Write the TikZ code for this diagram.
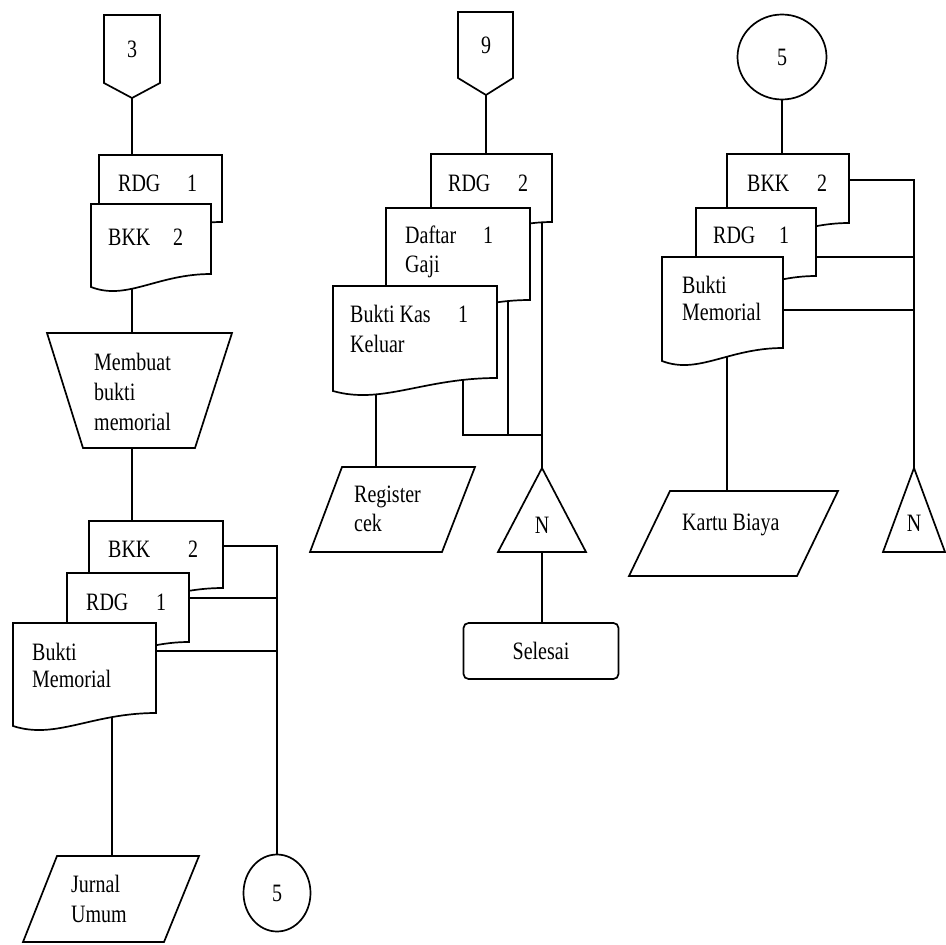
\documentclass[tikz,border=0pt]{standalone}
\usepackage{fontspec}
\setmainfont{Liberation Serif}[FakeStretch=0.8]
\usetikzlibrary{shapes.geometric,calc}
\pgfdeclarelayer{bg}
\pgfsetlayers{bg,main}

\tikzset{
	docline/.style={draw, fill=white, line width=1.7pt},
	flow/.style={draw, line width=1.7pt},
	lbl/.style={inner sep=0pt, anchor=base west},
	num/.style={inner sep=0pt, anchor=base},
	conn/.style={draw, ellipse, line width=1.7pt, fill=white, inner sep=0pt}
}

% document symbol: name, left, top, right, bottom (right side)
\newcommand{\docshape}[5]{%
	\draw[docline] (#2,#3) coordinate (#1-nw) -- (#4,#3) -- (#4,#5)
		.. controls ({#4-0.45*(#4-#2)},#5) and ({#2+0.3*(#4-#2)},{#5+27}) .. (#2,{#5+13}) -- cycle;
	\coordinate (#1) at ({(#2+#4)/2},{(#3+#5)/2});
}

\begin{document}
\begin{tikzpicture}[x=1pt, y=-1pt, font=\fontsize{25}{30}\selectfont]
	\useasboundingbox (0,0) rectangle (946,945);
	
	% ---- left column ----
	\draw[docline] (104,15) -- (160,15) -- (160,83) -- (132,98) coordinate (op3-tip) -- (104,83) -- cycle;
	\node[num] (op3-txt) at (132,57) {3};
	
	\docshape{rdgA}{99}{155}{222}{222}
	\node[lbl] (rdgA-t) at (118,191) {RDG};
	\node[num] (rdgA-n) at (192,191) {1};
	\docshape{bkkA}{91}{204}{211}{274}
	\node[lbl] (bkkA-t) at (108,245) {BKK};
	\node[num] (bkkA-n) at (178,245) {2};
	
	% manual operation
	\draw[docline] (47,333) -- (232,333) -- (195,448) -- (83,448) -- cycle;
	\coordinate (mb-top) at (132,333);
	\coordinate (mb-bot) at (132,448);
	\node[lbl] (mb-1) at (94,370) {Membuat};
	\node[lbl] (mb-2) at (94,400) {bukti};
	\node[lbl] (mb-3) at (94,430) {memorial};
	
	\docshape{bkkB}{89}{521}{223}{588}
	\node[lbl] (bkkB-t) at (108,557) {BKK};
	\node[num] (bkkB-n) at (193,557) {2};
	\docshape{rdgB}{67}{573}{189}{642}
	\node[lbl] (rdgB-t) at (86,610) {RDG};
	\node[num] (rdgB-n) at (161,610) {1};
	\docshape{bmB}{13}{623}{156}{713}
	\node[lbl] (bmB-1) at (32,660) {Bukti};
	\node[lbl] (bmB-2) at (32,687) {Memorial};
	
	\coordinate (busA) at (277,546);
	\coordinate (busB) at (277,598);
	\coordinate (busC) at (277,651);
	
	\draw[docline] (57,856) -- (199,856) -- (164,942) -- (23,942) -- cycle;
	\coordinate (ju-top) at (112,856);
	\node[lbl] (ju-1) at (71,892) {Jurnal};
	\node[lbl] (ju-2) at (71,922) {Umum};
	
	\node[conn, minimum width=67pt, minimum height=77pt] (c5a) at (277,893) {5};
	
	% ---- middle column ----
	\draw[docline] (458,12) -- (513,12) -- (513,78) -- (486,95) coordinate (op9-tip) -- (458,78) -- cycle;
	\node[num] (op9-txt) at (486,53) {9};
	
	\docshape{rdgC}{431}{154}{552}{222}
	\node[lbl] (rdgC-t) at (448,191) {RDG};
	\node[num] (rdgC-n) at (523,191) {2};
	\docshape{dgC}{386}{208}{530}{300}
	\node[lbl] (dgC-1) at (405,243) {Daftar};
	\node[num] (dgC-n) at (488,243) {1};
	\node[lbl] (dgC-2) at (405,272) {Gaji};
	\docshape{bkC}{333}{286}{497}{378}
	\node[lbl] (bkC-1) at (350,322) {Bukti Kas};
	\node[num] (bkC-n) at (463,322) {1};
	\node[lbl] (bkC-2) at (350,352) {Keluar};
	
	\coordinate (tapB) at (463,435);
	\coordinate (tapD) at (508,435);
	\coordinate (tapR) at (542,435);
	
	\draw[docline] (342,467) -- (475,467) -- (442,552) -- (310,552) -- cycle;
	\coordinate (rc-top) at (376,467);
	\node[lbl] (rc-1) at (354,502) {Register};
	\node[lbl] (rc-2) at (354,531) {cek};
	
	\draw[docline] (542,468) coordinate (triN-top) -- (586,552) -- (498,552) -- cycle;
	\coordinate (triN-base) at (542,552);
	\node[num] (triN-txt) at (542,533) {N};
	
	\node[draw, line width=1.7pt, rounded corners=5pt, minimum width=155pt, minimum height=56pt, inner sep=0pt] (sel) at (541,651) {Selesai};
	
	% ---- right column ----
	\node[conn, minimum width=89pt, minimum height=85pt] (c5b) at (782,57) {5};
	
	\docshape{bkkD}{727}{154}{849}{223}
	\node[lbl] (bkkD-t) at (747,191) {BKK};
	\node[num] (bkkD-n) at (822,191) {2};
	\docshape{rdgD}{696}{208}{816}{276}
	\node[lbl] (rdgD-t) at (713,243) {RDG};
	\node[num] (rdgD-n) at (784,243) {1};
	\docshape{bmD}{662}{257}{783}{348}
	\node[lbl] (bmD-1) at (682,293) {Bukti};
	\node[lbl] (bmD-2) at (682,320) {Memorial};
	
	\coordinate (busD1) at (914,180);
	\coordinate (busD2) at (914,257);
	\coordinate (busD3) at (914,310);
	
	\draw[docline] (670,491) -- (838,491) -- (797,576) -- (629,576) -- cycle;
	\coordinate (kb-top) at (727,491);
	\node[lbl] (kb-txt) at (682,530) {Kartu Biaya};
	
	\draw[docline] (914,468) coordinate (triN2-top) -- (945,552) -- (883,552) -- cycle;
	\node[num] (triN2-txt) at (914,531) {N};
	
	% ---- connectors ----
	\begin{pgfonlayer}{bg}
		\draw[flow] (op3-tip) -- (op3-tip |- rdgA-nw);
		\draw[flow] (mb-top) -- (mb-top |- bkkA);
		\draw[flow] (mb-bot) -- (mb-bot |- bkkB-nw);
		\draw[flow] (busA -| bkkB) -- (busA) -- (c5a);
		\draw[flow] (busB -| rdgB) -- (busB);
		\draw[flow] (busC -| bmB) -- (busC);
		\draw[flow] (ju-top) -- (ju-top |- bmB);
		
		\draw[flow] (op9-tip) -- (op9-tip |- rdgC-nw);
		\draw[flow] (tapB |- bkC) -- (tapB) -- (tapR) -- (triN-top);
		\draw[flow] (tapD |- dgC) -- (tapD);
		\draw[flow] (tapR |- rdgC) -- (tapR);
		\draw[flow] (rc-top) -- (rc-top |- bkC);
		\draw[flow] (triN-base) -- (triN-base |- sel.north);
		
		\draw[flow] (c5b) -- (c5b |- bkkD-nw);
		\draw[flow] (busD1 -| bkkD) -- (busD1) -- (triN2-top);
		\draw[flow] (busD2 -| rdgD) -- (busD2);
		\draw[flow] (busD3 -| bmD) -- (busD3);
		\draw[flow] (kb-top) -- (kb-top |- bmD);
	\end{pgfonlayer}
\end{tikzpicture}
\end{document}
